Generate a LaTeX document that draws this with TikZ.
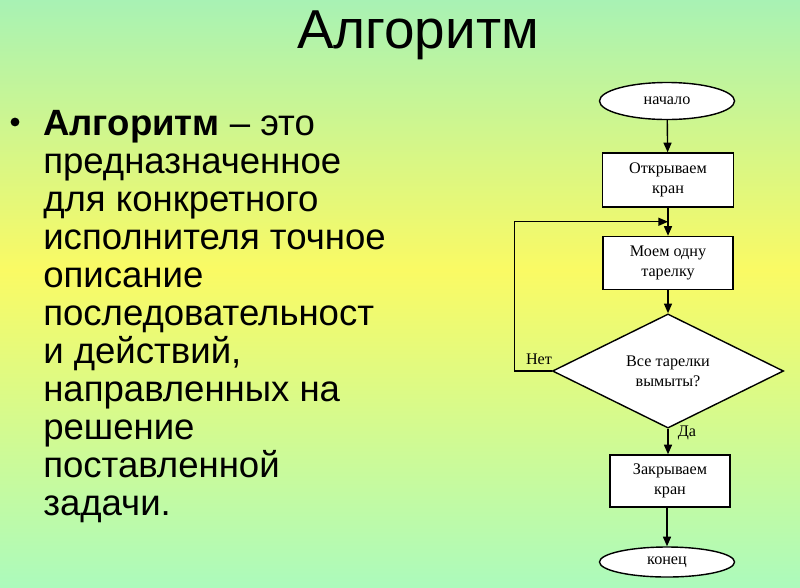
\documentclass[tikz,border=0pt]{standalone}
\usepackage{fontspec}
\setmainfont{Liberation Sans}
\newfontfamily\flowfont{Liberation Serif}
\usetikzlibrary{shapes.geometric, arrows.meta, positioning, calc}
\definecolor{bgmint}{RGB}{168, 242, 180}
\definecolor{bgyellow}{RGB}{250, 250, 100}
\definecolor{bgbottom}{RGB}{172, 250, 188}

\begin{document}
\begin{tikzpicture}[x=0.025cm, y=-0.025cm,
    block/.style={draw, fill=white, rectangle, line width=1pt, align=center,
        font=\flowfont\fontsize{11.5}{14}\selectfont, inner sep=1pt},
    terminal/.style={draw, fill=white, ellipse, line width=1pt, inner sep=0pt,
        font=\flowfont\fontsize{11.5}{14}\selectfont, minimum width=3.375cm},
    decision/.style={draw, fill=white, diamond, line width=1pt, inner sep=0pt, align=center,
        font=\flowfont\fontsize{11.5}{14}\selectfont, minimum width=5.775cm, minimum height=2.45cm},
    flow/.style={-{Triangle[length=2.4mm, width=2mm]}, line width=1pt},
    tag/.style={font=\flowfont\fontsize{11.5}{14}\selectfont, inner sep=0pt}]
    \useasboundingbox (0,0) rectangle (800,587);

    % Background gradient
    \shade[top color=bgmint, bottom color=bgyellow] (0,0) rectangle (800,270);
    \shade[top color=bgyellow, bottom color=bgbottom] (0,270) rectangle (800,587);

    % Title
    \node[anchor=base, font=\fontsize{39}{42}\selectfont] (title) at (418,48) {Алгоритм};

    % Definition text
    \node[circle, fill=black, inner sep=0pt, minimum size=0.22cm] (bullet) at (15,122) {};
    \foreach \t [count=\k from 0] in {{\textbf{Алгоритм} – это}, предназначенное, для конкретного,
        исполнителя точное, описание, последовательност, {и действий,}, направленных на,
        решение, поставленной, задачи.} {
        \node[anchor=base west, inner sep=0pt, font=\fontsize{26}{28}\selectfont] (line\k)
            at (43, 135+38*\k) {\t};
    }

    % Flowchart
    \node[terminal, minimum height=0.925cm] (start) at (667,101) {начало};
    \node[block, minimum width=3.275cm, minimum height=1.35cm] (open) at (668,180) {Открываем\\кран};
    \node[block, minimum width=3.25cm, minimum height=1.325cm] (wash) at (668,263) {Моем одну\\тарелку};
    \node[decision] (check) at (668,371) {Все тарелки\\вымыты?};
    \node[block, minimum width=3cm, minimum height=1.3cm] (close) at (670,481) {Закрываем\\кран};
    \node[terminal, minimum height=0.75cm] (stop) at (667,562) {конец};

    \coordinate (join) at ($(open.south)!0.5!(wash.north)$);

    \draw[flow] (start) -- (open);
    \draw[flow] (open) -- (wash);
    \draw[flow] (wash) -- (check);
    \draw[flow] (check) -- (close.north -| check.south);
    \draw[flow] (close.south -| stop.north) -- (stop);
    \draw[flow] (check.west) -- ++(-37,0) |- (join);

    \node[tag] (no) at (539,359) {Нет};
    \node[tag] (yes) at (687,433) {Да};
\end{tikzpicture}
\end{document}
